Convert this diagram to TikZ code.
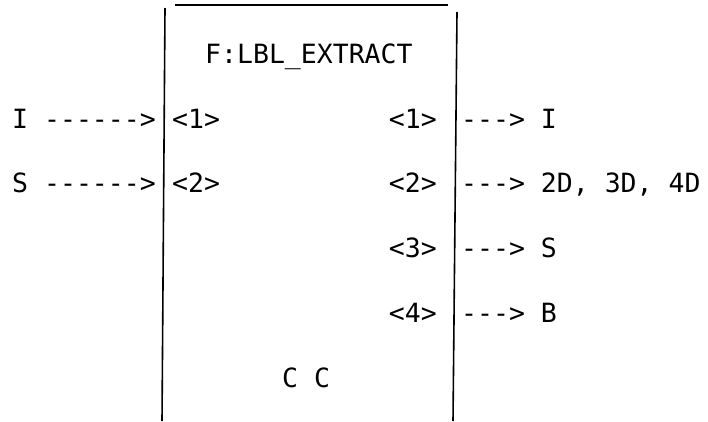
\documentclass[tikz,border=0pt]{standalone}
\usepackage{fontspec}
\setmonofont{DejaVu Sans Mono}
\begin{document}
\begin{tikzpicture}[x=1pt,y=-1pt,
  lbl/.style={font=\ttfamily\fontsize{26.5}{30}\selectfont,inner sep=0pt,anchor=base west},
  lble/.style={lbl,anchor=base east},
  frame/.style={line width=1.6pt}]
\useasboundingbox (0,0) rectangle (708,421);
% frame
\coordinate (lt) at (165,8);  \coordinate (lb) at (162,421);
\coordinate (tl) at (175,5);  \coordinate (tr) at (448,5);
\coordinate (rt) at (457,12); \coordinate (rb) at (453,421);
\draw[frame] (lt) -- (lb);
\draw[frame] (tl) -- (tr);
\draw[frame] (rt) -- (rb);
% title
\node[lbl] (title) at (205,63) {F:LBL\_EXTRACT};
% inputs
\node[lbl] (inI) at (12,128) {I ------>};
\node[lbl] (inS) at (12,192) {S ------>};
\node[lbl] (p1) at (172,128) {<1>};
\node[lbl] (p2) at (172,192) {<2>};
% outputs
\node[lble] (q1) at (437,128) {<1>};
\node[lble] (q2) at (437,192) {<2>};
\node[lble] (q3) at (437,257) {<3>};
\node[lble] (q4) at (437,322) {<4>};
\node[lbl] (o1) at (461,128) {---> I};
\node[lbl] (o2) at (461,192) {---> 2D, 3D, 4D};
\node[lbl] (o3) at (461,257) {---> S};
\node[lbl] (o4) at (461,322) {---> B};
% bottom
\node[lbl] (cc) at (282,387) {C C};
\end{tikzpicture}
\end{document}
